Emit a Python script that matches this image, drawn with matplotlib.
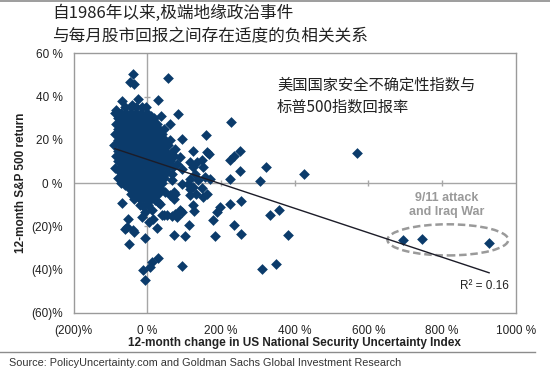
import matplotlib
matplotlib.use("Agg")
import matplotlib.pyplot as plt
from matplotlib.patches import Ellipse
import numpy as np

plt.rcParams["font.family"] = ["Liberation Sans", "DejaVu Sans"]
CJK = ["Noto Sans CJK SC", "DejaVu Sans"]

# dense cluster around (0 %, +15 %)
core_points = [
    (-70, 38), (-42, 36), (-26, 39),
    (-84, 34), (-60, 35), (-45, 35), (-30, 35), (-15, 35), (-5, 35),
    (-88, 32.5), (-72, 32.5), (-58, 32.5), (-44, 32.5), (-30, 32.5), (-16, 32.5), (-2, 32.5), (10, 31),
    (-80, 30), (-66, 30), (-52, 30), (-38, 30), (-24, 30), (-10, 30), (4, 30), (18, 30),
    (-86, 27.5), (-72, 27.5), (-58, 27.5), (-44, 27.5), (-30, 27.5), (-16, 27.5), (-2, 27.5), (12, 27.5), (26, 27.5),
    (-80, 25), (-66, 25), (-52, 25), (-38, 25), (-24, 25), (-10, 25), (4, 25), (18, 25), (32, 25), (45, 25),
    (-88, 22.5), (-72, 22.5), (-58, 22.5), (-44, 22.5), (-30, 22.5), (-16, 22.5), (-2, 22.5), (12, 22.5), (26, 22.5), (40, 22.5),
    (-80, 20), (-66, 20), (-52, 20), (-38, 20), (-24, 20), (-10, 20), (4, 20), (18, 20), (32, 20), (48, 20), (62, 20),
    (-90, 17.5), (-72, 17.5), (-58, 17.5), (-44, 17.5), (-30, 17.5), (-16, 17.5), (-2, 17.5), (12, 17.5), (26, 17.5), (40, 17.5),
    (-80, 15), (-66, 15), (-52, 15), (-38, 15), (-24, 15), (-10, 15), (4, 15), (18, 15), (32, 15), (48, 15), (65, 14),
    (-86, 12.5), (-72, 12.5), (-58, 12.5), (-44, 12.5), (-30, 12.5), (-16, 12.5), (-2, 12.5), (12, 12.5), (26, 12.5), (40, 12.5), (56, 12.5), (72, 12.5),
    (-80, 10), (-66, 10), (-52, 10), (-38, 10), (-24, 10), (-10, 10), (4, 10), (18, 10), (32, 10), (48, 10), (62, 10), (80, 9),
    (-72, 7.5), (-58, 7.5), (-44, 7.5), (-30, 7.5), (-16, 7.5), (-2, 7.5), (12, 7.5), (26, 7.5), (40, 7.5), (55, 7.5), (70, 7.5),
    (-75, 5), (-60, 5), (-46, 5), (-32, 5), (-18, 5), (-4, 5), (10, 5), (24, 5), (38, 5), (52, 5), (66, 4),
    (-80, 2.5), (-66, 2.5), (-52, 2.5), (-38, 2.5), (-24, 2.5), (-10, 2.5), (4, 2.5), (18, 2.5), (32, 2.5), (46, 2.5),
    (-72, 0), (-58, 0), (-44, 0), (-30, 0), (-16, 0), (-2, 0), (12, 0), (26, 0), (40, 0),
    (-50, -2.5), (-36, -2.5), (-22, -2.5), (-8, -2.5), (6, -2.5), (20, -2.5), (34, -2.5),
    (-44, -5), (-30, -5), (-15, -5), (0, -5), (14, -5), (28, -5),
    (-35, -7.5), (-20, -7.5), (-5, -7.5), (10, -7.5),
    (-12, -10.5), (2, -10),
]

# scattered observations
spread_points = [
    (-40, 50.2), (-46, 46.7), (-36, 45.6), (55, 48.8), (29, 38.5), (38, 30.8), (61, 27.1), (84, 32),
    (226, 28.3), (158, 22.2), (95, 20.5), (124, 14.8), (162, 14.3), (167, 13.2), (252, 14.8), (236, 12.3),
    (224, 10.5), (569, 13.9), (322, 7.4), (426, 4.3), (252, 5.5), (224, 1.7), (305, 0.8), (171, 2),
    (-89, 7.1), (-61, -1.1),
    (57, 17.5), (75, 15.9), (89, 12), (116, 9.7), (134, 9.7), (148, 10.5), (125, 7.4), (152, 7.4),
    (93, 6.7), (130, 4.3), (116, 2), (138, 1.3), (157, 2.8), (66, 1.3), (93, -0.3), (111, -0.3),
    (125, -1.8), (48, -4.2), (71, -4.2), (116, -2.6), (132, -4.9), (148, -2.3), (62, -5.7), (75, -4.9),
    (116, -5.7), (152, -6.5), (161, -4.9),
    (125, -10), (128, -13.1), (93, -13.4), (75, -14.2), (53, -15), (39, -15), (66, -15.3), (80, -15.7),
    (89, -12.6), (34, -9.5), (21, -8), (30, -8.8), (7, -6.5), (71, -7.2), (-2, -8), (-20, -10.3),
    (-6, -13.4), (12, -12.6), (-15, -15.7), (5, -18), (16, -16.5), (25, -20.8), (-70, -9.2), (-52, -16.5),
    (-61, -21.1), (-56, -20.4), (-38, -21.9), (-35, -22.6), (-50, -28.3), (-6, -25.4), (71, -23.9),
    (102, -24.5), (114, -19.3), (44, -14.6),
    (179, -17.3), (184, -24.7), (188, -13.4), (196, -11.1), (225, -9.5), (254, -8.3), (236, -19.3),
    (254, -23.8), (333, -15), (358, -12.3), (383, -23.9), (312, -39.6), (349, -37.6),
    (-11, -40.1), (7, -38.9), (30, -34.5), (-6, -44.7), (12, -36.6), (95, -38.6),
]

# 9/11 attack and Iraq War
war_x = [693, 745, 927]
war_y = [-26.2, -26.0, -27.7]

# linear trend shown on the chart
trend_range = [-88, 928]
trend_intercept = 10.9
trend_slope = -0.0565
r_squared = 0.16

x_ticks = [-200, 0, 200, 400, 600, 800, 1000]
x_tick_labels = ["(200)%", "0 %", "200 %", "400 %", "600 %", "800 %", "1000 %"]
y_ticks = [-60, -40, -20, 0, 20, 40, 60]
y_tick_labels = ["(60)%", "(40)%", "(20)%", "0 %", "20 %", "40 %", "60 %"]

NAVY = "#0b3b6b"
GRID = "#a6a6a6"

fig = plt.figure(figsize=(5.5, 3.72), dpi=100)
ax = fig.add_axes([0.134, 0.1594, 0.8035, 0.6973])

ax.axhline(0, color=GRID, linewidth=1.0, zorder=1)
ax.axvline(0, color=GRID, linewidth=1.0, zorder=1)
ax.plot(x_ticks[1:-1], [0] * (len(x_ticks) - 2), linestyle="none", marker="|", markersize=4, color=GRID, zorder=1)
ax.plot([0] * (len(y_ticks) - 2), y_ticks[1:-1], linestyle="none", marker="_", markersize=4, color=GRID, zorder=1)

core_x, core_y = zip(*core_points)
spread_x, spread_y = zip(*spread_points)
all_x = list(core_x) + list(spread_x) + war_x
all_y = list(core_y) + list(spread_y) + war_y
ax.scatter(all_x, all_y, s=30, marker="D", color=NAVY, linewidths=0, zorder=3)

tx = np.array(trend_range)
ax.plot(tx, trend_intercept + trend_slope * tx, color="#1c1c28", linewidth=1.0, zorder=4)

ax.add_patch(Ellipse((816, -26.3), 328, 14.4, fill=False, edgecolor="#9a9a9a",
                     linewidth=1.8, linestyle=(0, (3, 1.5)), zorder=2))
ax.text(814, -7.1, "9/11 attack", ha="center", va="center", fontsize=9,
        fontweight="bold", color="#9a9a9a")
ax.text(814, -13.6, "and Iraq War", ha="center", va="center", fontsize=9,
        fontweight="bold", color="#9a9a9a")
ax.text(982, -47.8, f"R\u00b2 = {r_squared:.2f}", ha="right", va="center", fontsize=8.5, color="#222222")

ax.text(352, 45.2, "美国国家安全不确定性指数与", family=CJK, fontsize=11, color="#222222", va="center")
ax.text(352, 35.0, "标普500指数回报率", family=CJK, fontsize=11, color="#222222", va="center")

ax.set_xlim(-200, 1000)
ax.set_ylim(-60, 60)
ax.set_xticks(x_ticks)
ax.set_xticklabels(x_tick_labels)
ax.set_yticks(y_ticks)
ax.set_yticklabels(y_tick_labels)
ax.tick_params(length=0, labelsize=8.5, colors="#222222")
ax.tick_params(axis="x", pad=9)
ax.tick_params(axis="y", pad=8)
for spine in ax.spines.values():
    spine.set_color("#9a9a9a")
    spine.set_linewidth(1.0)

ax.set_xlabel("12-month change in US National Security Uncertainty Index",
              fontsize=8.5, fontweight="bold", color="#222222")
ax.set_ylabel("12-month S&P 500 return", fontsize=8.5, fontweight="bold", color="#222222")
ax.xaxis.set_label_coords(0.5, -0.092)
ax.yaxis.set_label_coords(-0.105, 0.5)

fig.text(0.095, 0.965, "自1986年以来,极端地缘政治事件", family=CJK, fontsize=12, color="#222222", va="center")
fig.text(0.095, 0.9005, "与每月股市回报之间存在适度的负相关关系", family=CJK, fontsize=12, color="#222222", va="center")

fig.add_artist(plt.Line2D([0, 1], [0.997, 0.997], color="#8c8c8c", linewidth=1.2))
fig.add_artist(plt.Line2D([0, 0.973], [0.054, 0.054], color="#8c8c8c", linewidth=1.0))
fig.text(0.016, 0.024, "Source: PolicyUncertainty.com and Goldman Sachs Global Investment Research",
         fontsize=7.8, color="#333333", va="center")

fig.savefig("out.png", dpi=100)
plt.close(fig)
